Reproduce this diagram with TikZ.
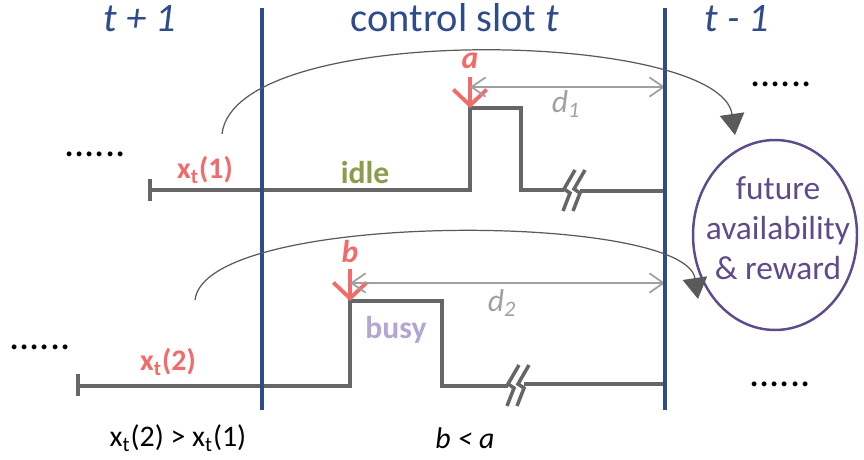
\documentclass[tikz,border=0pt]{standalone}
\usepackage{fontspec}
\setmainfont{Carlito}
\usetikzlibrary{arrows.meta}

\begin{document}
\begin{tikzpicture}[
    every node/.style={inner sep=0pt},
    % pixel grid of the sketch: 864 x 459, y runs downwards
    x=0.02cm, y=-0.02cm,
]

% ---------------------------------------------------------------- colours
\definecolor{slotblue}{HTML}{2F4B8C}
\definecolor{wavegray}{HTML}{666666}
\definecolor{markred}{HTML}{F26B6B}
\definecolor{distgray}{HTML}{A0A0A0}
\definecolor{idlegreen}{HTML}{8A9D4B}
\definecolor{busylilac}{HTML}{B4A6D2}
\definecolor{futurepurple}{HTML}{5E4B8B}
\definecolor{linkgray}{HTML}{5A5A5A}

\tikzset{
    slot/.style={slotblue, line width=2.6pt},
    wave/.style={wavegray, line width=2pt},
    marker/.style={markred, line width=2.2pt,
                   -{Straight Barb[length=9pt, width=19pt]}},
    dist/.style={distgray, line width=1pt,
                 {Straight Barb[length=8pt, width=11pt]}-{Straight Barb[length=8pt, width=11pt]}},
    link/.style={linkgray, line width=0.7pt,
                 -{Triangle[length=12pt, width=14pt]}},
    title/.style={font=\fontsize{23}{28}\selectfont, text=slotblue, anchor=base},
    tag/.style={font=\fontsize{17}{20}\selectfont\bfseries, text=markred},
    pointtag/.style={font=\fontsize{18}{22}\selectfont\bfseries\itshape, text=markred},
    dlabel/.style={font=\fontsize{18}{22}\selectfont\itshape, text=distgray},
    more/.style={font=\fontsize{23}{28}\selectfont, anchor=base},
    note/.style={font=\fontsize{17}{20}\selectfont},
}

\useasboundingbox (0,0) rectangle (864,459);

% ---------------------------------------------------------------- slot titles
\node[title] (tnext) at (140,32) {\itshape t + 1};
\node[title] (tnow)  at (455,32) {control slot \textit{t}};
\node[title] (tprev) at (737,32) {\itshape t - 1};

% ---------------------------------------------------------------- row 1: idle
\draw[wave] (150,179) -- (150,201);
\draw[wave] (150,190) -- (470,190) -- (470,108) -- (521,108) -- (521,190)
    -- (564,190);
\foreach \m in {564,574} {
    \draw[wave] (\m+11,170) -- (\m,189) -- (\m+6,193) -- (\m-1,211);
}
\draw[wave] (580,191) -- (665,191);

\node[tag] (x1) at (205,170) {x\textsubscript{t}(1)};
\node[font=\fontsize{18}{22}\selectfont\bfseries, text=idlegreen]
    (idle) at (365,173) {idle};

\coordinate (atop) at (470,77);
\coordinate (atip) at (470,108);
\draw[marker] (atop) -- (atip);
\node[pointtag] (alab) at (470,61) {a};

\coordinate (d1from) at (470,87);
\coordinate (d1to) at (665,87);
\draw[dist] (d1from) -- (d1to);
\node[dlabel] (d1) at (566,104) {d\textsubscript{1}};

% ---------------------------------------------------------------- row 2: busy
\draw[wave] (78,374) -- (78,396);
\draw[wave] (78,386) -- (350,386) -- (350,301) -- (442,301) -- (442,386)
    -- (508,386);
\foreach \m in {508,518} {
    \draw[wave] (\m+11,365) -- (\m,384) -- (\m+6,388) -- (\m-1,406);
}
\draw[wave] (524,384) -- (665,384);

\node[tag] (x2) at (168,362) {x\textsubscript{t}(2)};
\node[font=\fontsize{18}{22}\selectfont\bfseries, text=busylilac]
    (busy) at (396,330) {busy};

\coordinate (btop) at (350,269);
\coordinate (btip) at (350,301);
\draw[marker] (btop) -- (btip);
\node[pointtag] (blab) at (350,252) {b};

\coordinate (d2from) at (350,283);
\coordinate (d2to) at (665,283);
\draw[dist] (d2from) -- (d2to);
\node[dlabel] (d2) at (502,303) {d\textsubscript{2}};

% ---------------------------------------------------------------- slot borders
\draw[slot] (262,8) -- (262,410);
\draw[slot] (665,8) -- (665,410);

% ---------------------------------------------------------------- future
\node[font=\fontsize{19}{22.7}\selectfont, text=futurepurple, align=center]
    (reward) at (778,228) {future\\availability\\\& reward};
\draw[futurepurple, line width=1.4pt]
    (775,235) ellipse [x radius=1.64cm, y radius=1.9cm];

\coordinate (c1from) at (222,134);
\coordinate (c1to) at (735,135);
\draw[link] (c1from) .. controls (235,20) and (720,30) .. (c1to);
\coordinate (c2from) at (195,300);
\coordinate (c2to) at (698,299);
\draw[link] (c2from) .. controls (205,210) and (685,212) .. (c2to);

% ---------------------------------------------------------------- the dots
\node[more] (moreA) at (95,156) {......};
\node[more] (moreB) at (781,87) {......};
\node[more] (moreC) at (40,349) {......};
\node[more] (moreD) at (780,386) {......};

% ---------------------------------------------------------------- bottom notes
\node[note] (cmpx) at (178,438) {x\textsubscript{t}(2) > x\textsubscript{t}(1)};
\node[note, font=\fontsize{17}{20}\selectfont\itshape] (cmpba) at (465,438) {b < a};

\end{tikzpicture}
\end{document}
